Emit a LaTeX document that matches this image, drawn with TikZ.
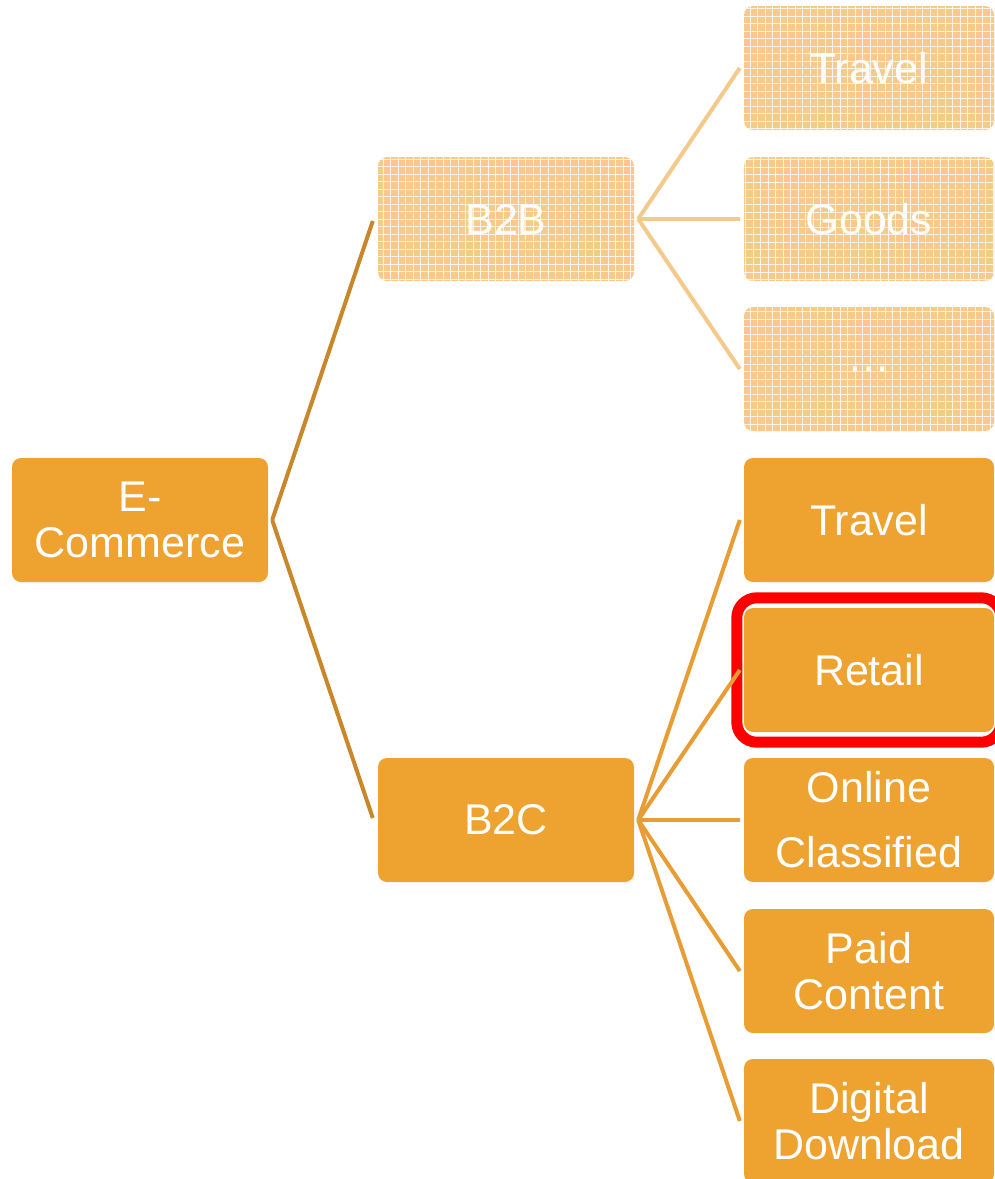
\documentclass[tikz,border=0pt]{standalone}
\usepackage{fontspec}
\setmainfont{Liberation Sans}
\usetikzlibrary{fit}

\definecolor{boxfill}{HTML}{EEA230}
\definecolor{fadefill}{HTML}{F7CA8C}
\definecolor{rootline}{HTML}{C8872A}
\definecolor{leafline}{HTML}{E89D34}
\definecolor{fadeline}{HTML}{F5C98C}
\definecolor{hilite}{HTML}{FF0000}

\tikzset{
  card/.style={rectangle, rounded corners=9pt, fill=boxfill, text=white,
    inner sep=0pt, minimum width=256pt, minimum height=124pt,
    align=center, font=\fontsize{43}{46}\selectfont},
  leaf/.style={card, minimum width=250pt},
  faded/.style={fill=fadefill,
    path picture={\draw[white, opacity=0.8, line width=0.5pt, step=7.5pt]
      (path picture bounding box.south west) grid (path picture bounding box.north east);}},
  rootlink/.style={draw=rootline, line width=4pt},
  leaflink/.style={draw=leafline, line width=4pt},
  fadelink/.style={draw=fadeline, line width=4pt},
  mark box/.style={draw=hilite, line width=11pt, rounded corners=20pt,
    inner xsep=7pt, inner ysep=10pt}
}

\begin{document}
\begin{tikzpicture}[x=1pt, y=-1pt]
  \useasboundingbox (0,0) rectangle (995,1179);
  \clip (0,0) rectangle (995,1179);

  % first two levels
  \node[card] (ecom) at (140,520) {E-\\Commerce};
  \node[card, faded] (b2b) at (506,219) {B2B};
  \node[card] (b2c) at (506,820) {B2C};

  % B2B children
  \node[leaf, faded] (btravel) at (869,68) {Travel};
  \node[leaf, faded] (bgoods) at (869,219) {Goods};
  \node[leaf, faded] (bmore) at (869,369) {\dots};

  % B2C children
  \node[leaf] (ctravel) at (869,520) {Travel};
  \node[leaf] (cretail) at (869,670) {Retail};
  \node[leaf] (cclass) at (869,820) {Online\\[19pt]Classified};
  \node[leaf] (cpaid) at (869,971) {Paid\\Content};
  \node[leaf] (cdigital) at (869,1121) {Digital\\Download};

  % highlight round Retail
  \node[mark box, fit=(cretail)] (retailmark) {};

  % links
  \path[rootlink] ([xshift=4pt]ecom.east) -- ([xshift=-5pt,yshift=-2pt]b2b.west);
  \path[rootlink] ([xshift=4pt]ecom.east) -- ([xshift=-5pt,yshift=2pt]b2c.west);

  \path[fadelink] ([xshift=4pt]b2b.east) -- ([xshift=-4pt]btravel.west);
  \path[fadelink] ([xshift=4pt]b2b.east) -- ([xshift=-4pt]bgoods.west);
  \path[fadelink] ([xshift=4pt]b2b.east) -- ([xshift=-4pt]bmore.west);

  \path[leaflink] ([xshift=4pt]b2c.east) -- ([xshift=-4pt]ctravel.west);
  \path[leaflink] ([xshift=4pt]b2c.east) -- ([xshift=-4pt]cretail.west);
  \path[leaflink] ([xshift=4pt]b2c.east) -- ([xshift=-4pt]cclass.west);
  \path[leaflink] ([xshift=4pt]b2c.east) -- ([xshift=-4pt]cpaid.west);
  \path[leaflink] ([xshift=4pt]b2c.east) -- ([xshift=-4pt]cdigital.west);
\end{tikzpicture}
\end{document}
